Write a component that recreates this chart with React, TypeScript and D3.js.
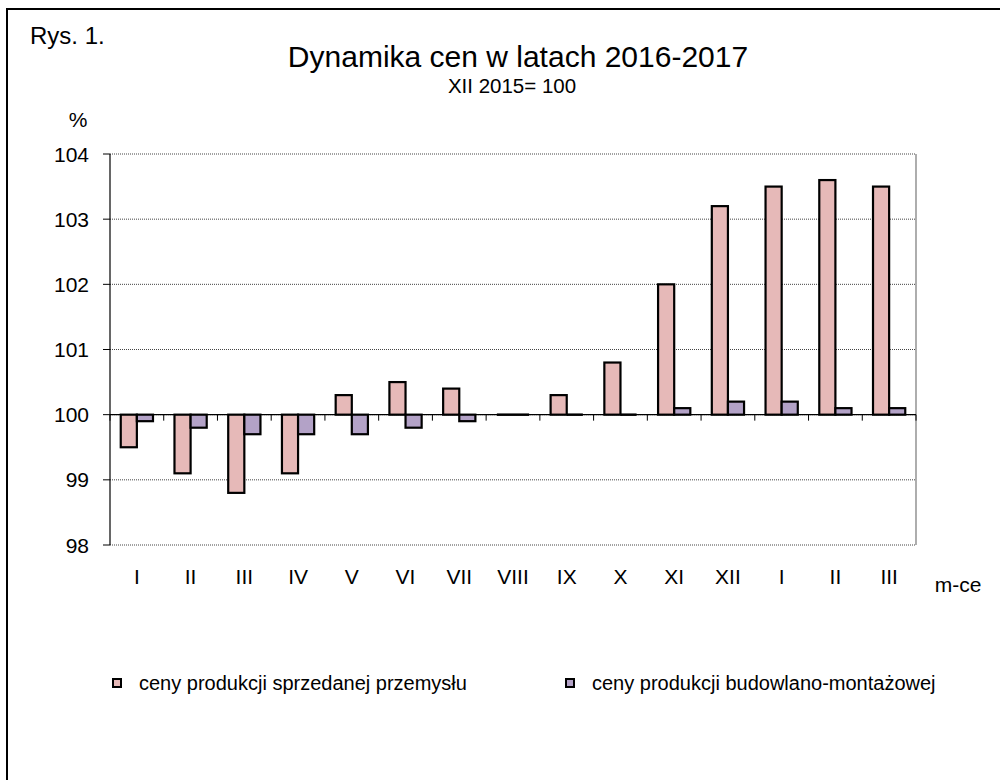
import React from "react";
import * as d3 from "d3";

const months = ["I", "II", "III", "IV", "V", "VI", "VII", "VIII", "IX", "X", "XI", "XII", "I", "II", "III"];
const industry = [99.5, 99.1, 98.8, 99.1, 100.3, 100.5, 100.4, 100.0, 100.3, 100.8, 102.0, 103.2, 103.5, 103.6, 103.5];
const construction = [99.9, 99.8, 99.7, 99.7, 99.7, 99.8, 99.9, 100.0, 100.0, 100.0, 100.1, 100.2, 100.2, 100.1, 100.1];
const yTicks = [98, 99, 100, 101, 102, 103, 104];
const seriesNames = ["ceny produkcji sprzedanej przemysłu", "ceny produkcji budowlano-montażowej"];
const seriesColors = ["#E6B9B8", "#B3A2C7"];

const W = 1000;
const H = 780;
const plot = { left: 110, right: 916, top: 154, bottom: 545 };
const FONT = "Liberation Sans, Arial, sans-serif";

export default function App() {
  const idx = months.map((_, i) => i);
  const x = d3.scaleBand<number>().domain(idx).range([plot.left, plot.right]).padding(0);
  const y = d3.scaleLinear().domain([98, 104]).range([plot.bottom, plot.top]);
  const bw = x.bandwidth();
  const barW = bw * 0.3;
  const base = y(100);

  const bar = (v: number, xi: number, s: number, key: string) => {
    const x0 = (x(xi) as number) + bw / 2 - barW + s * barW;
    const y0 = Math.min(y(v), base);
    const h = Math.abs(y(v) - base);
    if (h < 0.5) {
      return <line key={key} x1={x0} x2={x0 + barW} y1={base} y2={base} stroke="#000" strokeWidth={2.5} />;
    }
    return (
      <rect key={key} x={x0} y={y0} width={barW} height={h} fill={seriesColors[s]} stroke="#000" strokeWidth={2.2} />
    );
  };

  const boundaries = [...idx.map((i) => x(i) as number), plot.right];

  return (
    <svg width={W} height={H} style={{ position: "absolute", left: 0, top: 0 }} fontFamily={FONT}>
      <rect x={0} y={0} width={W} height={H} fill="#fff" />
      <rect x={7} y={9} width={1100} height={900} fill="none" stroke="#000" strokeWidth={2} />
      <text x={30} y={44} fontSize={24}>Rys. 1.</text>
      <text x={518} y={67} fontSize={30} textAnchor="middle">Dynamika cen w latach 2016-2017</text>
      <text x={512} y={93} fontSize={20.5} textAnchor="middle">XII 2015= 100</text>
      <text x={78} y={127} fontSize={21} textAnchor="middle">%</text>

      {yTicks.map((t) => (
        <g key={t}>
          <line x1={plot.left} x2={plot.right} y1={y(t)} y2={y(t)} stroke="#444" strokeWidth={1} strokeDasharray="1,1" />
          <line x1={plot.left - 7} x2={plot.left} y1={y(t)} y2={y(t)} stroke="#000" strokeWidth={1} />
          <text x={89} y={y(t) + 7.5} fontSize={21} textAnchor="end">{t}</text>
        </g>
      ))}
      <line x1={plot.right} x2={plot.right} y1={plot.top} y2={plot.bottom} stroke="#777" strokeWidth={1.2} />
      <line x1={plot.left} x2={plot.left} y1={plot.top} y2={plot.bottom} stroke="#000" strokeWidth={1.2} />

      <line x1={plot.left} x2={plot.right} y1={base} y2={base} stroke="#000" strokeWidth={1.2} />
      {boundaries.map((b, i) => (
        <line key={i} x1={b} x2={b} y1={base} y2={base + 6} stroke="#000" strokeWidth={1} />
      ))}

      {industry.map((v, i) => bar(v, i, 0, "a" + i))}
      {construction.map((v, i) => bar(v, i, 1, "b" + i))}

      {months.map((m, i) => (
        <text key={i} x={(x(i) as number) + bw / 2} y={584} fontSize={21} textAnchor="middle">{m}</text>
      ))}
      <text x={958} y={592} fontSize={21} textAnchor="middle">m-ce</text>

      {seriesNames.map((n, i) => {
        const lx = i === 0 ? 113 : 566;
        return (
          <g key={n}>
            <rect x={lx} y={679} width={8} height={8} fill={seriesColors[i]} stroke="#000" strokeWidth={2} />
            <text x={lx + 26} y={690} fontSize={20}>{n}</text>
          </g>
        );
      })}
    </svg>
  );
}
